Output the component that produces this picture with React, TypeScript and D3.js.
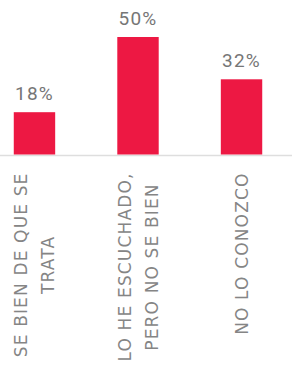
import React, { useEffect, useRef } from "react";
import * as d3 from "d3";

const categoryKeys = ["sabe", "escuchado", "noconoce"];
const categoryLines = [
  ["SE BIEN DE QUE SE", "TRATA"],
  ["LO HE ESCUCHADO,", "PERO NO SE BIEN"],
  ["NO LO CONOZCO"],
];
const values = [18, 50, 32];
const valueLabels = ["18%", "50%", "32%"];

const W = 292;
const H = 368;

export default function App() {
  const ref = useRef<SVGSVGElement>(null);

  useEffect(() => {
    const svg = d3.select(ref.current);
    svg.selectAll("*").remove();

    const x = d3
      .scaleBand<string>()
      .domain(categoryKeys)
      .range([0, 276])
      .paddingInner(0.6)
      .paddingOuter(0.133);
    const y = d3.scaleLinear().domain([0, 50]).range([154.5, 37]);

    svg
      .append("line")
      .attr("x1", 0)
      .attr("x2", W)
      .attr("y1", 155.5)
      .attr("y2", 155.5)
      .attr("stroke", "#dedede")
      .attr("stroke-width", 1.5);

    svg
      .selectAll("rect.bar")
      .data(values)
      .join("rect")
      .attr("class", "bar")
      .attr("x", (_, i) => x(categoryKeys[i])!)
      .attr("width", x.bandwidth())
      .attr("y", (d) => y(d))
      .attr("height", (d) => y(0) - y(d))
      .attr("fill", "#ED1843");

    svg
      .selectAll("text.val")
      .data(values)
      .join("text")
      .attr("class", "val")
      .attr("x", (_, i) => x(categoryKeys[i])! + x.bandwidth() / 2)
      .attr("y", (d) => y(d) - 12)
      .attr("text-anchor", "middle")
      .attr("font-family", "Roboto, sans-serif")
      .attr("font-size", 19)
      .attr("letter-spacing", 1.2)
      .attr("fill", "#767676")
      .text((_, i) => valueLabels[i]);

    const labelTop = 172.5;
    const lineGap = 27.3;
    const cap = 12.3;
    categoryLines.forEach((lines, i) => {
      const cx = x(categoryKeys[i])! + x.bandwidth() / 2;
      const g = svg.append("g");
      const texts = lines.map((ln) =>
        g
          .append("text")
          .attr("text-anchor", "middle")
          .attr("font-family", "'DejaVu Sans', sans-serif")
          .attr("font-size", 17)
          .attr("letter-spacing", 1.15)
          .attr("fill", "#858585")
          .text(ln)
      );
      const maxLen = d3.max(texts, (t) => (t.node() as SVGTextElement).getComputedTextLength()) || 0;
      const cy = labelTop + maxLen / 2;
      const n = lines.length;
      texts.forEach((t, j) => {
        const bx = cx + (j - (n - 1) / 2) * lineGap + cap / 2;
        t.attr("transform", `translate(${bx},${cy}) rotate(-90)`);
      });
    });
  }, []);

  return (
    <svg
      ref={ref}
      width={W}
      height={H}
      style={{ position: "absolute", left: 0, top: 0, background: "#fff" }}
    />
  );
}
